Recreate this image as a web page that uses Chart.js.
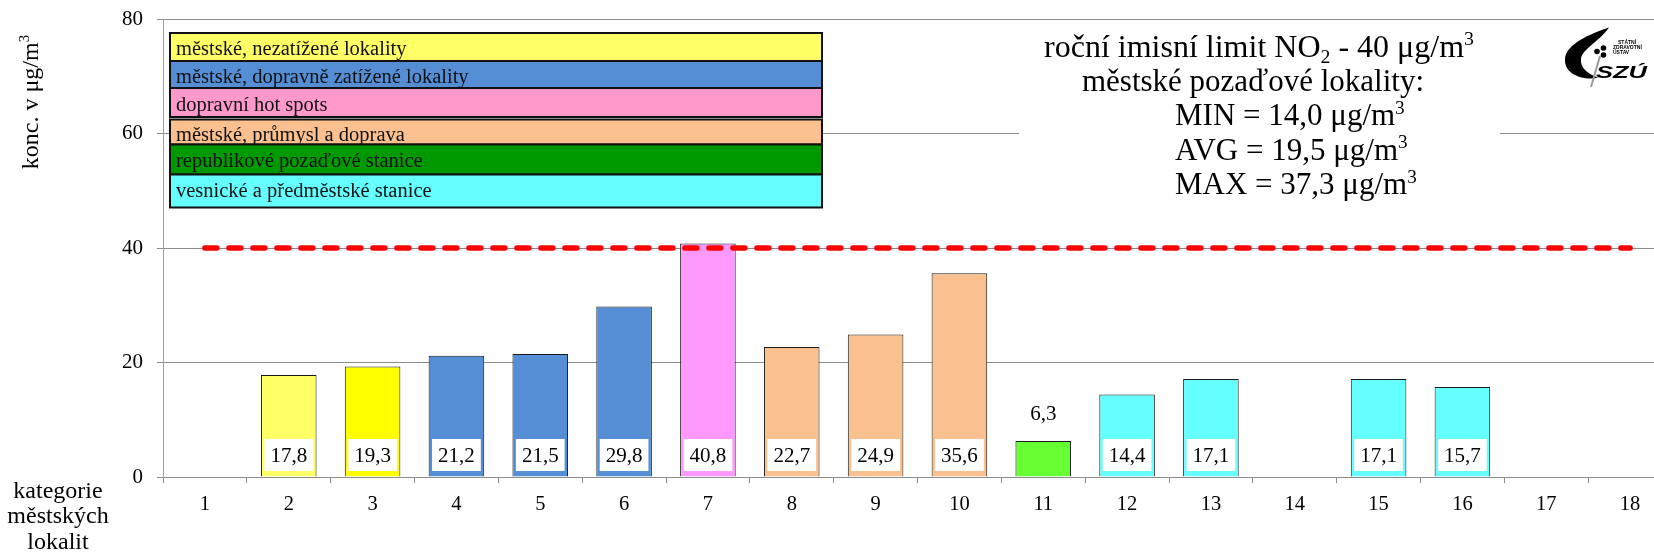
<!DOCTYPE html>
<html lang="cs">
<head>
<meta charset="utf-8">
<title>Roční koncentrace NO2 podle kategorií městských lokalit</title>
<script src="https://cdn.jsdelivr.net/npm/chart.js@4/dist/chart.umd.min.js"></script>
<style>
  html, body { margin: 0; padding: 0; background: #ffffff; overflow: hidden; }
  #wrap { position: relative; width: 1680px; height: 552px; }
  canvas { display: block; }
</style>
</head>
<body>
<div id="wrap"><canvas id="c" width="1680" height="552"></canvas></div>
<script>
// --- data ---------------------------------------------------------------
const categories = ['1','2','3','4','5','6','7','8','9','10','11','12','13','14','15','16','17','18'];
const no2Values  = [null, 17.8, 19.3, 21.2, 21.5, 29.8, 40.8, 22.7, 24.9, 35.6, 6.3, 14.4, 17.1, null, 17.1, 15.7, null, null];
const barColors  = ['rgba(0,0,0,0)', '#FFFF66', '#FFFF00', '#558ED5', '#558ED5', '#558ED5', '#FF99FF',
                    '#FAC090', '#FAC090', '#FAC090', '#66FF33', '#66FFFF', '#66FFFF', 'rgba(0,0,0,0)',
                    '#66FFFF', '#66FFFF', 'rgba(0,0,0,0)', 'rgba(0,0,0,0)'];
const limitValues = [40, 40, 40, 40, 40, 40, 40, 40, 40, 40, 40, 40, 40, 40, 40, 40, 40, 40];
const yTicks = [0, 20, 40, 60, 80];

const legendLabels = ['městské, nezatížené lokality', 'městské, dopravně zatížené lokality', 'dopravní hot spots',
                      'městské, průmysl a doprava', 'republikové pozaďové stanice', 'vesnické a předměstské stanice'];
const legendColors = ['#FFFF66', '#558ED5', '#FF99CC', '#FAC090', '#009900', '#66FFFF'];

const limitText = 'roční imisní limit NO';
const backgroundTitle = 'městské pozaďové lokality:';
const backgroundStats = [['MIN', '14,0'], ['AVG', '19,5'], ['MAX', '37,3']];

// --- drawing helpers ------------------------------------------------------
const SERIF = '"Liberation Serif", "Times New Roman", serif';

function runFont(size, r) { return ((r.sup || r.sub) ? size * 0.62 : size) + 'px ' + SERIF; }
function richWidth(ctx, runs, size) {
  let w = 0;
  for (const r of runs) { ctx.font = runFont(size, r); w += ctx.measureText(r.t).width; }
  return w;
}
function drawRich(ctx, runs, x, y, size, align) {
  let cx = align === 'center' ? x - richWidth(ctx, runs, size) / 2 : x;
  ctx.textAlign = 'left';
  ctx.textBaseline = 'alphabetic';
  for (const r of runs) {
    ctx.font = runFont(size, r);
    const dy = r.sup ? -size * 0.36 : (r.sub ? size * 0.2 : 0);
    ctx.fillText(r.t, cx, y + dy);
    cx += ctx.measureText(r.t).width;
  }
}

// value labels: white box near the base of a bar, or plain text above a short bar
const valueLabels = {
  id: 'valueLabels',
  afterDatasetsDraw(chart) {
    const ctx = chart.ctx;
    const meta = chart.getDatasetMeta(1);
    const base = chart.scales.y.getPixelForValue(0);
    ctx.save();
    ctx.font = '21px ' + SERIF;
    ctx.textAlign = 'center';
    ctx.textBaseline = 'middle';
    meta.data.forEach((bar, i) => {
      const v = no2Values[i];
      if (v == null) return;
      const txt = v.toFixed(1).replace('.', ',');
      const w = ctx.measureText(txt).width + 12;
      if (base - bar.y > 40) {
        const cy = base - 22;
        ctx.fillStyle = '#ffffff';
        ctx.fillRect(bar.x - w / 2, cy - 16, w, 32);
        ctx.fillStyle = '#000000';
        ctx.fillText(txt, bar.x, cy + 1);
      } else {
        ctx.fillStyle = '#000000';
        ctx.fillText(txt, bar.x, bar.y - 26);
      }
    });
    ctx.restore();
  }
};

// category legend, limit note, logo and axis titles
const overlay = {
  id: 'overlay',
  afterDraw(chart) {
    const ctx = chart.ctx;
    ctx.save();

    // legend rows
    const rows = [[33, 28, 22], [61, 27, 22], [88, 29, 22.5], [119.5, 25, 21], [144.5, 30, 22.5], [174.5, 33, 22.5]];
    const lx = 170, lw = 652;
    rows.forEach(([top, h, bl], i) => {
      ctx.fillStyle = legendColors[i];
      ctx.fillRect(lx, top, lw, h);
      ctx.save();
      ctx.beginPath();
      ctx.rect(lx, top, lw, h);
      ctx.clip();
      ctx.fillStyle = '#111111';
      ctx.font = '20.5px ' + SERIF;
      ctx.textAlign = 'left';
      ctx.textBaseline = 'alphabetic';
      ctx.fillText(legendLabels[i], lx + 6, top + bl);
      ctx.restore();
      ctx.strokeStyle = '#111111';
      ctx.lineWidth = 2;
      ctx.strokeRect(lx, top, lw, h);
    });

    // limit note on a white panel
    ctx.fillStyle = '#ffffff';
    ctx.fillRect(1019, 23, 481, 182);
    ctx.fillStyle = '#000000';
    drawRich(ctx, [{t: limitText}, {t: '2', sub: true}, {t: ' - 40 μg/m'}, {t: '3', sup: true}], 1259, 57, 32, 'center');
    drawRich(ctx, [{t: backgroundTitle}], 1253, 91, 31, 'center');
    backgroundStats.forEach(([k, v], i) => {
      drawRich(ctx, [{t: k + ' = ' + v + ' μg/m'}, {t: '3', sup: true}], 1175, 125 + i * 34.5, 31, 'left');
    });

    // logo
    ctx.fillStyle = '#000000';
    ctx.beginPath();
    ctx.moveTo(1609, 27.5);
    ctx.bezierCurveTo(1590, 34, 1566, 44, 1565, 59);
    ctx.bezierCurveTo(1564, 72, 1578, 79.5, 1594, 78.5);
    ctx.lineTo(1598, 77.5);
    ctx.bezierCurveTo(1588, 74, 1580, 68, 1581, 59);
    ctx.bezierCurveTo(1582, 49, 1600, 41, 1609, 27.5);
    ctx.fill();
    ctx.strokeStyle = '#9a9a9a';
    ctx.lineWidth = 2;
    ctx.beginPath();
    ctx.moveTo(1600, 56);
    ctx.lineTo(1591, 87);
    ctx.stroke();
    ctx.fillStyle = '#000000';
    [[1597, 51.5, 2.8], [1603.5, 48, 2.8], [1603.5, 55, 2.8]].forEach(([x, y, r]) => {
      ctx.beginPath(); ctx.arc(x, y, r, 0, Math.PI * 2); ctx.fill();
    });
    ctx.save();
    ctx.translate(1596, 77.5);
    ctx.scale(1.5, 1);
    ctx.font = 'italic bold 17px "Liberation Sans", Arial, sans-serif';
    ctx.textAlign = 'left';
    ctx.textBaseline = 'alphabetic';
    ctx.fillText('SZÚ', 0, 0);
    ctx.restore();
    ctx.font = 'bold 5px "Liberation Sans", Arial, sans-serif';
    ctx.fillText('STÁTNÍ', 1618, 44);
    ctx.fillText('ZDRAVOTNÍ', 1613, 49);
    ctx.fillText('ÚSTAV', 1613, 54);

    // y-axis title
    ctx.save();
    ctx.translate(37.5, 102);
    ctx.rotate(-Math.PI / 2);
    ctx.fillStyle = '#000000';
    drawRich(ctx, [{t: 'konc. v μg/m'}, {t: '3', sup: true}], 0, 0, 24, 'center');
    ctx.restore();

    // x-axis title
    ctx.fillStyle = '#000000';
    ctx.font = '24px ' + SERIF;
    ctx.textAlign = 'center';
    ctx.textBaseline = 'alphabetic';
    ctx.fillText('kategorie', 58, 498);
    ctx.fillText('městských', 58, 523);
    ctx.fillText('lokalit', 58, 549);

    ctx.restore();
  }
};

const GRID = '#8c8c8c';

new Chart(document.getElementById('c'), {
  data: {
    labels: categories,
    datasets: [
      {
        type: 'line',
        label: 'limit',
        data: limitValues,
        borderColor: '#FF0000',
        borderWidth: 5.5,
        borderDash: [12, 12],
        borderCapStyle: 'round',
        pointRadius: 0,
        fill: false,
        tension: 0,
        order: 0
      },
      {
        type: 'bar',
        label: 'NO2',
        data: no2Values,
        backgroundColor: barColors,
        borderColor: '#1a1a1a',
        borderWidth: 1,
        barPercentage: 0.663,
        categoryPercentage: 1,
        order: 1
      }
    ]
  },
  options: {
    responsive: false,
    animation: false,
    devicePixelRatio: 1,
    layout: { autoPadding: false, padding: { top: 19, right: 8, left: 0, bottom: 0 } },
    plugins: { legend: { display: false }, tooltip: { enabled: false } },
    scales: {
      x: {
        offset: true,
        grid: { display: true, drawOnChartArea: false, drawTicks: true, tickLength: 6, color: GRID, offset: true },
        border: { color: GRID },
        ticks: { font: { family: SERIF, size: 20.5 }, color: '#000000', padding: 9, maxRotation: 0, autoSkip: false },
        afterFit(s) { s.height = 75; s.paddingLeft = 0; s.paddingRight = 0; }
      },
      y: {
        min: yTicks[0],
        max: yTicks[yTicks.length - 1],
        afterBuildTicks(s) { s.ticks = yTicks.map(v => ({ value: v })); },
        grid: { color: GRID, tickLength: 6 },
        border: { color: '#a0a0a0' },
        ticks: { font: { family: SERIF, size: 21 }, color: '#000000', padding: 14 },
        afterFit(s) { s.width = 163; s.paddingTop = 0; s.paddingBottom = 0; }
      }
    }
  },
  plugins: [valueLabels, overlay]
});
</script>
</body>
</html>
